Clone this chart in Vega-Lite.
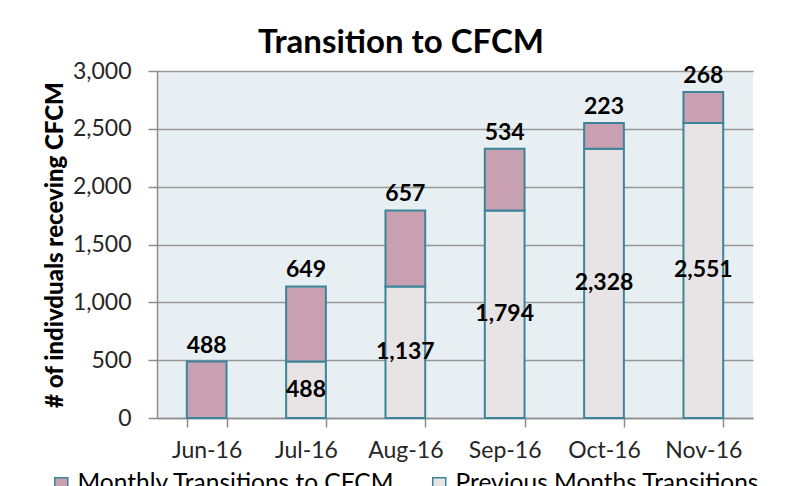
{
  "$schema": "https://vega.github.io/schema/vega-lite/v6.json",
  "width": 596,
  "height": 347,
  "autosize": {"type": "none"},
  "padding": {"left": 157, "top": 71, "right": 32, "bottom": 68},
  "background": "white",
  "title": {
    "text": "Transition to CFCM",
    "font": "Lato",
    "fontSize": 33,
    "fontWeight": "bold",
    "color": "#000000",
    "anchor": "middle",
    "frame": "group",
    "dx": -54,
    "offset": 0
  },
  "data": {
    "values": [
      {"month": "Jun-16", "series": "Monthly Transitions to CFCM", "value": 488},
      {"month": "Jul-16", "series": "Previous Months Transitions", "value": 488},
      {"month": "Jul-16", "series": "Monthly Transitions to CFCM", "value": 649},
      {"month": "Aug-16", "series": "Previous Months Transitions", "value": 1137},
      {"month": "Aug-16", "series": "Monthly Transitions to CFCM", "value": 657},
      {"month": "Sep-16", "series": "Previous Months Transitions", "value": 1794},
      {"month": "Sep-16", "series": "Monthly Transitions to CFCM", "value": 534},
      {"month": "Oct-16", "series": "Previous Months Transitions", "value": 2328},
      {"month": "Oct-16", "series": "Monthly Transitions to CFCM", "value": 223},
      {"month": "Nov-16", "series": "Previous Months Transitions", "value": 2551},
      {"month": "Nov-16", "series": "Monthly Transitions to CFCM", "value": 268}
    ]
  },
  "encoding": {
    "x": {
      "field": "month",
      "type": "nominal",
      "sort": ["Jun-16", "Jul-16", "Aug-16", "Sep-16", "Oct-16", "Nov-16"],
      "scale": {"paddingInner": 0.6, "paddingOuter": 0.3},
      "axis": {
        "title": null,
        "labelAngle": 0,
        "labelFont": "Lato",
        "labelFontSize": 23,
        "labelColor": "#262626",
        "labelPadding": 12,
        "tickBand": "extent",
        "tickSize": 9,
        "tickColor": "#8C8C8C",
        "tickWidth": 1.5,
        "domainColor": "#8C8C8C",
        "domainWidth": 1.5,
        "grid": false
      }
    }
  },
  "layer": [
    {
      "mark": {"type": "bar", "stroke": "#3B8499", "strokeWidth": 2},
      "encoding": {
        "y": {
          "field": "value",
          "type": "quantitative",
          "stack": "zero",
          "scale": {"domain": [0, 3000], "nice": false},
          "axis": {
            "title": "# of indivduals receving CFCM",
            "titleFont": "Lato",
            "titleFontSize": 24,
            "titleFontWeight": 900,
            "titleColor": "#000000",
            "titlePadding": 5,
            "values": [0, 500, 1000, 1500, 2000, 2500, 3000],
            "format": ",d",
            "labelFont": "Lato",
            "labelFontSize": 23,
            "labelColor": "#262626",
            "labelPadding": 17,
            "tickSize": 9,
            "tickColor": "#8C8C8C",
            "tickWidth": 1.5,
            "domainColor": "#8C8C8C",
            "domainWidth": 1.5,
            "grid": true,
            "gridColor": "#969696",
            "gridWidth": 1.5
          }
        },
        "color": {
          "field": "series",
          "type": "nominal",
          "scale": {
            "domain": ["Monthly Transitions to CFCM", "Previous Months Transitions"],
            "range": ["#C8A0B1", "#E8E3E5"]
          },
          "legend": {
            "title": null,
            "orient": "none",
            "direction": "horizontal",
            "legendX": -108,
            "legendY": 401,
            "symbolType": "square",
            "symbolSize": 170,
            "symbolStrokeColor": "#3B8499",
            "symbolStrokeWidth": 1.5,
            "labelFont": "Lato",
            "labelFontSize": 24.5,
            "labelColor": "#000000",
            "labelLimit": 500,
            "labelOffset": 4,
            "columnPadding": 32
          }
        },
        "order": {"field": "series", "sort": "descending"}
      }
    },
    {
      "mark": {
        "type": "text",
        "font": "Lato",
        "fontSize": 23,
        "fontWeight": "bold",
        "baseline": "bottom",
        "dy": -4,
        "color": "#000000"
      },
      "encoding": {
        "y": {"field": "value", "type": "quantitative", "stack": "zero"},
        "detail": {"field": "series"},
        "order": {"field": "series", "sort": "descending"},
        "text": {"field": "value", "type": "quantitative", "format": ","},
        "opacity": {
          "condition": {"test": "datum.series === 'Monthly Transitions to CFCM'", "value": 1},
          "value": 0
        }
      }
    },
    {
      "transform": [
        {"filter": "datum.series === 'Previous Months Transitions'"},
        {"calculate": "datum.value / 2", "as": "mid"}
      ],
      "mark": {
        "type": "text",
        "font": "Lato",
        "fontSize": 23,
        "fontWeight": "bold",
        "baseline": "middle",
        "color": "#000000"
      },
      "encoding": {
        "y": {"field": "mid", "type": "quantitative"},
        "text": {"field": "value", "type": "quantitative", "format": ","}
      }
    }
  ],
  "config": {
    "view": {"fill": "#E8EFF3", "stroke": null}
  }
}
